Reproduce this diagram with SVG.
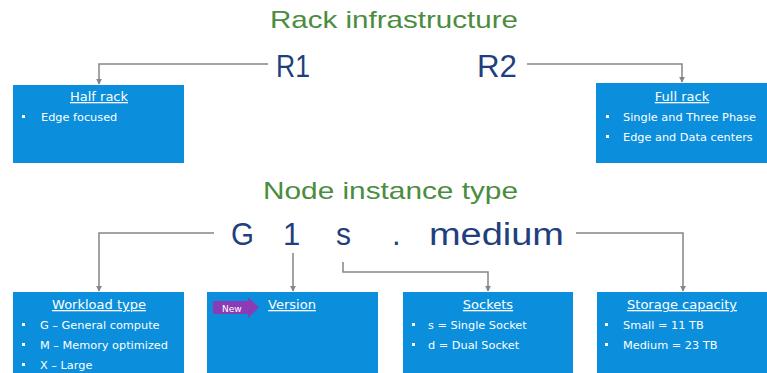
<svg xmlns="http://www.w3.org/2000/svg" width="767" height="373" viewBox="0 0 767 373">
  <style>
    .title { font-family: "Liberation Sans", Arial, sans-serif; font-size: 24px; fill: #4b8c40; }
    .code { font-family: "Liberation Sans", Arial, sans-serif; font-size: 31px; fill: #1f3f7e; }
    .box { fill: #0b8edb; }
    .head { font-family: "DejaVu Sans", Verdana, sans-serif; font-size: 13px; fill: #ffffff; text-anchor: middle; text-decoration: underline; }
    .item { font-family: "DejaVu Sans", Verdana, sans-serif; font-size: 11.3px; fill: #ffffff; }
    .dot { fill: #ffffff; }
    .wire { fill: none; stroke: #858585; stroke-width: 1.5; }
  </style>
  <defs>
    <marker id="arrow" viewBox="0 0 8 8" refX="7" refY="4" markerWidth="6" markerHeight="6" orient="auto" markerUnits="userSpaceOnUse">
      <path d="M0,0 L8,4 L0,8 Z" fill="#858585"/>
    </marker>
  </defs>

  <rect width="767" height="373" fill="#ffffff"/>

  <!-- headings -->
  <text class="title" x="270" y="28" textLength="248" lengthAdjust="spacingAndGlyphs">Rack infrastructure</text>
  <text class="title" x="263" y="199" textLength="255" lengthAdjust="spacingAndGlyphs">Node instance type</text>

  <!-- rack codes -->
  <text class="code" x="276" y="77" textLength="34" lengthAdjust="spacingAndGlyphs">R1</text>
  <text class="code" x="477" y="77" textLength="40" lengthAdjust="spacingAndGlyphs">R2</text>

  <!-- instance name parts -->
  <text class="code" x="231" y="245" textLength="23" lengthAdjust="spacingAndGlyphs">G</text>
  <text class="code" x="283" y="245">1</text>
  <text class="code" x="336" y="245" textLength="15" lengthAdjust="spacingAndGlyphs">s</text>
  <text class="code" x="392" y="245">.</text>
  <text class="code" x="429" y="245" textLength="135" lengthAdjust="spacingAndGlyphs">medium</text>

  <!-- connectors -->
  <g id="connectors">
    <path class="wire" d="M268,64 H99 V84" marker-end="url(#arrow)"/>
    <path class="wire" d="M527,64 H682 V82" marker-end="url(#arrow)"/>
    <path class="wire" d="M214,233 H99 V291" marker-end="url(#arrow)"/>
    <path class="wire" d="M293,253 V291" marker-end="url(#arrow)"/>
    <path class="wire" d="M343,262 V272 H488 V291" marker-end="url(#arrow)"/>
    <path class="wire" d="M576,233 H683 V291" marker-end="url(#arrow)"/>
  </g>

  <!-- half rack -->
  <g id="half-rack">
    <rect class="box" x="13" y="85" width="171" height="78"/>
    <text class="head" x="99" y="101">Half rack</text>
    <rect class="dot" x="22" y="115" width="3" height="3"/>
    <text class="item" x="41" y="121">Edge focused</text>
  </g>

  <!-- full rack -->
  <g id="full-rack">
    <rect class="box" x="596" y="83" width="171" height="80"/>
    <text class="head" x="682" y="101">Full rack</text>
    <rect class="dot" x="606" y="115" width="3" height="3"/>
    <text class="item" x="623" y="121">Single and Three Phase</text>
    <rect class="dot" x="606" y="135" width="3" height="3"/>
    <text class="item" x="623" y="141">Edge and Data centers</text>
  </g>

  <!-- workload type -->
  <g id="workload-type">
    <rect class="box" x="13" y="292" width="171" height="90"/>
    <text class="head" x="99" y="309">Workload type</text>
    <rect class="dot" x="22" y="323" width="3" height="3"/>
    <text class="item" x="40" y="329">G – General compute</text>
    <rect class="dot" x="22" y="343" width="3" height="3"/>
    <text class="item" x="40" y="349">M – Memory optimized</text>
    <rect class="dot" x="22" y="363" width="3" height="3"/>
    <text class="item" x="40" y="369">X – Large</text>
  </g>

  <!-- version -->
  <g id="version">
    <rect class="box" x="207" y="292" width="171" height="90"/>
    <path d="M213,301 H248 V297 L259,307.5 L248,318 V314 H213 Z" fill="#8a3bb5"/>
    <text x="222" y="311.5" font-family="'DejaVu Sans', Verdana, sans-serif" font-size="9" fill="#ffffff">New</text>
    <text class="head" x="292" y="309">Version</text>
  </g>

  <!-- sockets -->
  <g id="sockets">
    <rect class="box" x="403" y="292" width="170" height="90"/>
    <text class="head" x="488" y="309">Sockets</text>
    <rect class="dot" x="412" y="323" width="3" height="3"/>
    <text class="item" x="428" y="329">s = Single Socket</text>
    <rect class="dot" x="412" y="343" width="3" height="3"/>
    <text class="item" x="428" y="349">d = Dual Socket</text>
  </g>

  <!-- storage capacity -->
  <g id="storage-capacity">
    <rect class="box" x="597" y="292" width="170" height="90"/>
    <text class="head" x="682" y="309">Storage capacity</text>
    <rect class="dot" x="605" y="323" width="3" height="3"/>
    <text class="item" x="623" y="329">Small = 11 TB</text>
    <rect class="dot" x="605" y="343" width="3" height="3"/>
    <text class="item" x="623" y="349">Medium = 23 TB</text>
  </g>
</svg>
